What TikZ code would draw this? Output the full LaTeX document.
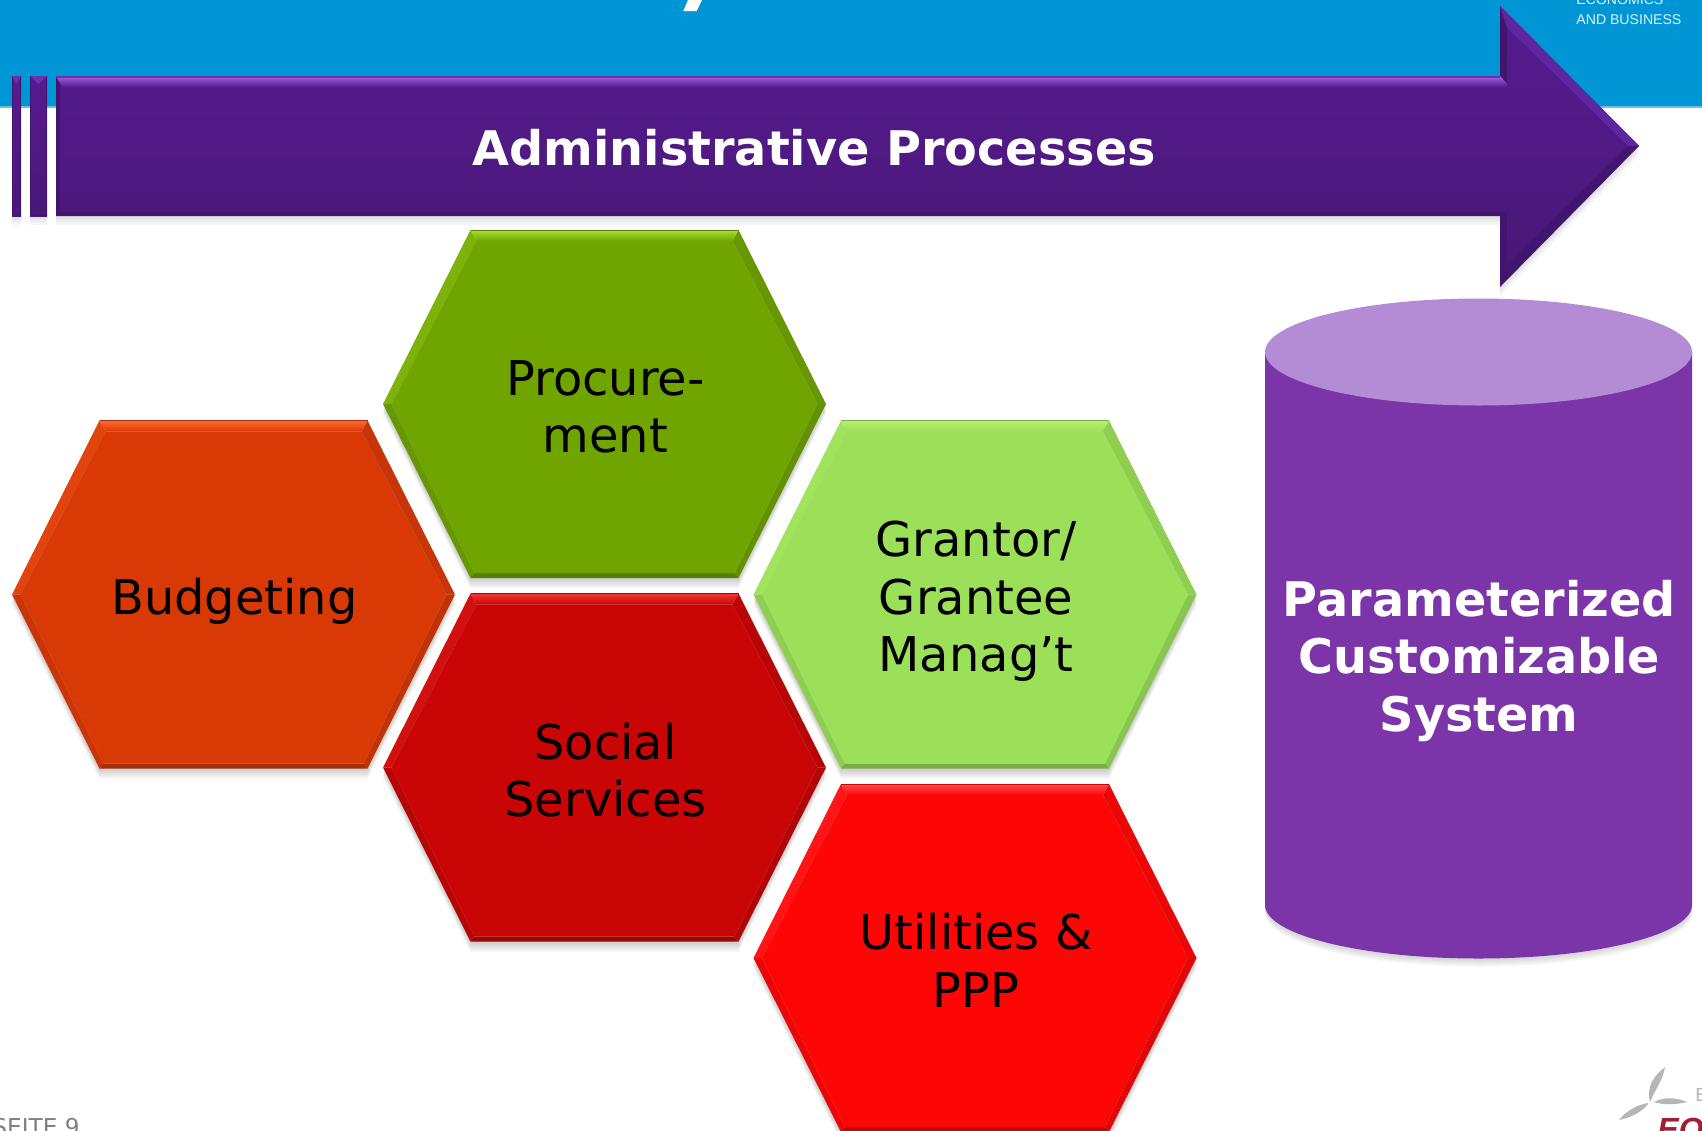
\documentclass[tikz,border=0pt]{standalone}
\usepackage{fontspec}
\setmainfont{DejaVu Sans}
\newfontfamily\logofont{Liberation Sans}
\definecolor{headblue}{HTML}{0096D6}
\definecolor{arrowtop}{HTML}{561A90}
\definecolor{arrowbot}{HTML}{4A1878}
\definecolor{arrowhi}{HTML}{A263E0}
\definecolor{arrowdk}{HTML}{41166F}
\definecolor{arrowside}{HTML}{5E26A0}
\definecolor{cylbody}{HTML}{7B35A8}
\definecolor{cyltop}{HTML}{B48CD6}
\definecolor{logogrey}{HTML}{B4B6B8}
\definecolor{logored}{HTML}{A51C36}
\definecolor{procf}{HTML}{70A500}\definecolor{procl}{HTML}{A8E030}\definecolor{procd}{HTML}{557F08}
\definecolor{budgf}{HTML}{D93A05}\definecolor{budgl}{HTML}{FF6A30}\definecolor{budgd}{HTML}{A82C08}
\definecolor{socif}{HTML}{C90505}\definecolor{socil}{HTML}{F53535}\definecolor{socid}{HTML}{980808}
\definecolor{granf}{HTML}{9CDF58}\definecolor{granl}{HTML}{B8F070}\definecolor{grand}{HTML}{78AE44}
\definecolor{utilf}{HTML}{FF0606}\definecolor{utill}{HTML}{FF4A4A}\definecolor{utild}{HTML}{C00808}
\tikzset{
  hexlabel/.style={text=black,align=center,inner sep=0pt,xshift=.5pt,font=\fontsize{23.95}{28.8}\selectfont},
  whitelabel/.style={text=white,align=center,inner sep=0pt,xshift=.4pt,font=\fontsize{23.85}{28.8}\selectfont\bfseries},
  softshadow/.style={fill=black,opacity=.04},
  blade/.style={fill=logogrey,draw=none}
}
% name, cx, cy, fill, light, dark, label offset, text
\newcommand{\hexa}[8]{%
  \begin{scope}[shift={(#2,#3)}]
    \foreach \s in {2,4,6,8,10}{
      \fill[softshadow] (-221.5,\s) -- (-134,-174+\s) -- (134,-174+\s) -- (221.5,\s) -- (134,174+\s) -- (-134,174+\s) -- cycle;}
    \fill[#5!22!#4] (-221.5,0) -- (-134,-174) -- (-128,-163) -- (-213,0) -- cycle;
    \fill[#6!35!#4] (221.5,0) -- (134,-174) -- (128,-163) -- (213,0) -- cycle;
    \fill[#6!35!#4] (-221.5,0) -- (-134,174) -- (-130,169) -- (-213,0) -- cycle;
    \fill[#6!50!#4] (221.5,0) -- (134,174) -- (130,169) -- (213,0) -- cycle;
    \fill[#6] (-134,174) -- (134,174) -- (130,169) -- (-130,169) -- cycle;
    \shade[top color=#5,bottom color=#4] (-134,-174) -- (134,-174) -- (128,-163) -- (-128,-163) -- cycle;
    \fill[#4] (-213,0) -- (-128,-163) -- (128,-163) -- (213,0) -- (130,169) -- (-130,169) -- cycle;
    \draw[#6,line width=.4pt] (-134,-174) -- (134,-174);
    \node[hexlabel] (#1) at (0,#7) {#8};
  \end{scope}%
}
\newcommand{\tailstrip}[3]{%
  \foreach \s in {3,6,9}{\fill[softshadow] (#2,76+\s) rectangle (#3,216+\s);}
  \shade[top color=arrowtop,bottom color=arrowbot] (#2,76) rectangle (#3,216);
  \draw[arrowdk,line width=.6pt] ({#2+.7},76.7) rectangle ({#3-.7},215.3);
  \fill[arrowside!80!arrowhi] (#2,76) -- (#3,76) -- ({(#2+#3)/2},84) -- cycle;
  \coordinate (#1) at ({(#2+#3)/2},146);
}
\begin{document}
\begin{tikzpicture}[x=0.5pt,y=-0.5pt]
  \useasboundingbox (0,0) rectangle (1702,1130);
  \clip (0,0) rectangle (1702,1130);
  \fill[white] (0,0) rectangle (1702,1130);
  % header band
  \fill[headblue] (0,0) rectangle (1702,106);
  \fill[headblue!60] (0,106) rectangle (1702,107.5);
  % descender of the cut-off title
  \fill[white] (683.3,11) -- (696.7,11) -- (702,0) -- (688,0) -- cycle;
  % header logo text
  \node[text=white!88!headblue,anchor=base west,inner sep=0pt,font=\logofont\fontsize{7.05}{9}\selectfont] (logoa) at (1576,4) {ECONOMICS};
  \node[text=white!88!headblue,anchor=base west,inner sep=0pt,font=\logofont\fontsize{7.05}{9}\selectfont] (logob) at (1576,24) {AND BUSINESS};

  % arrow tail strips
  \tailstrip{stripa}{12}{21}
  \tailstrip{stripb}{30}{47}
  % arrow shadow
  \foreach \s in {3,6,9}{
    \fill[softshadow] (56,76+\s) -- (1500,76+\s) -- (1500,6+\s) -- (1639,146+\s) -- (1500,287+\s) -- (1500,216+\s) -- (56,216+\s) -- cycle;}
  % arrow facets
  \fill[arrowdk] (56,76) -- (1500,76) -- (1500,6) -- (1639,146) -- (1500,287) -- (1500,216) -- (56,216) -- cycle;
  \fill[arrowside] (1500,6) -- (1639,146) -- (1628,146) -- (1507,28) -- cycle;
  \shade[top color=arrowhi,bottom color=arrowtop] (56,76) -- (1500,76) -- (1510,87) -- (62,87) -- cycle;
  \fill[arrowtop!70!arrowhi] (56,76) rectangle (1500,78);
  \shade[top color=arrowtop,bottom color=arrowbot]
    (60,87) -- (1507,87) -- (1507,28) -- (1628,146) -- (1507,265) -- (1507,212) -- (60,212) -- cycle;
  \node[whitelabel] (admin) at (813.5,148) {Administrative Processes};

  % hexagons
  \hexa{proc}{604.5}{404}{procf}{procl}{procd}{3}{Procure-\\ment}
  \hexa{budg}{233.5}{594.5}{budgf}{budgl}{budgd}{6.5}{Budgeting}
  \hexa{soci}{604.5}{767.5}{socif}{socil}{socid}{2.5}{Social\\Services}
  \hexa{gran}{975}{594.5}{granf}{granl}{grand}{7}{Grantor/\\Grantee\\Manag’t}
  \hexa{util}{975}{958}{utilf}{utill}{utild}{2}{Utilities \&\\PPP}

  % cylinder
  \foreach \s in {2,4,6,8}{
    \fill[softshadow] (1265,352+\s) -- (1265,905+\s) arc[start angle=180,end angle=0,x radius=213.5,y radius=53.5] -- (1692,352+\s) -- cycle;}
  \fill[cylbody] (1265,352) -- (1265,905) arc[start angle=180,end angle=0,x radius=213.5,y radius=53.5] -- (1692,352) -- cycle;
  \fill[cyltop] (1478.5,352) ellipse[x radius=213.5,y radius=53.5];
  \node[whitelabel] (cyl) at (1478.5,661) {Parameterized\\Customizable\\System};

  % footer
  \node[text=black!50,anchor=base east,inner sep=0pt,font=\fontsize{11.6}{13}\selectfont] (page) at (80,1135) {SEITE 9};
  % footer logo
  \coordinate (hub) at (1650,1102);
  \fill[blade] (hub) .. controls (1646,1085) and (1655,1075) .. (1665,1067) .. controls (1663,1080) and (1655,1090) .. (hub);
  \fill[blade] (1654,1102) .. controls (1665,1096) and (1678,1098) .. (1687,1102) .. controls (1675,1105) and (1663,1105) .. cycle;
  \fill[blade] (hub) ++(-2,1) .. controls (1636,1105) and (1625,1112) .. (1619,1120) .. controls (1630,1118) and (1642,1112) .. (1648,1104) -- cycle;
  \node[text=logogrey,anchor=base west,inner sep=0pt,font=\logofont\fontsize{9.5}{11}\selectfont] (logoc) at (1695,1101) {E};
  \node[text=logored,anchor=base west,inner sep=0pt,font=\logofont\fontsize{16}{18}\selectfont\bfseries\itshape] (logod) at (1657,1140) {EO};
\end{tikzpicture}
\end{document}
